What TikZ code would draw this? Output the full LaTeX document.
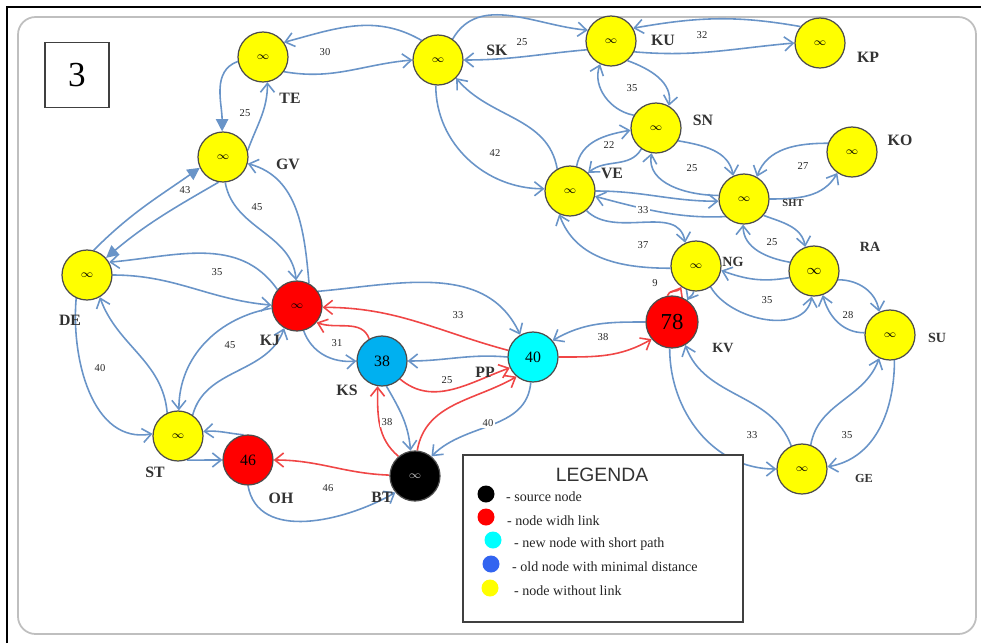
\documentclass[tikz,border=0pt]{standalone}
\usepackage{fontspec}
\setmainfont{Liberation Serif}
\newfontfamily\legsans{Liberation Sans}
\usetikzlibrary{arrows.meta}
\definecolor{eblue}{RGB}{105,148,200}
\definecolor{ered}{RGB}{240,70,70}
\definecolor{ksblue}{RGB}{0,176,240}
\definecolor{ppcyan}{RGB}{0,255,255}
\definecolor{nyellow}{RGB}{255,255,0}
\definecolor{nred}{RGB}{255,0,0}
\definecolor{legblue}{RGB}{50,100,240}
\pgfdeclarelayer{background}
\pgfdeclarelayer{bottom}
\pgfsetlayers{bottom,background,main}
\begin{document}
\begin{tikzpicture}[x=0.02cm,y=0.02cm,
  nd/.style={circle, draw=black!70, line width=0.7pt, minimum size=1cm, inner sep=0pt},
  ynode/.style={nd, fill=nyellow, font=\fontsize{6}{6}\selectfont},
  lab/.style={font=\fontsize{9}{10}\selectfont\bfseries, text=black!80},
  wl/.style={font=\fontsize{6}{6}\selectfont, text=black!85, fill=white, inner sep=1pt},
  be/.style={draw=eblue, line width=0.9pt, -{Straight Barb[length=5pt,width=8pt]}},
  re/.style={draw=ered, line width=0.9pt, -{Straight Barb[length=5pt,width=8pt]}},
  bf/.style={draw=eblue, line width=0.9pt, -{Triangle[length=7pt,width=7pt]}},
  legtxt/.style={anchor=west, font=\fontsize{8}{9}\selectfont, text=black!85},
  legdot/.style={circle, minimum size=0.34cm, inner sep=0pt}
]
\useasboundingbox (0,0) rectangle (981,-643);
\begin{pgfonlayer}{bottom}
\fill[white] (0,0) rectangle (981,-643);
\draw[black, line width=1.2pt] (7,-643) -- (7,-7) -- (981,-7);
\draw[black!25, line width=1pt, rounded corners=10] (18,-17) rectangle (976,-634);
\end{pgfonlayer}

% number box
\node[draw=black!75, line width=1pt, minimum width=1.28cm, minimum height=1.3cm,
      font=\fontsize{20}{22}\selectfont] (num) at (77,-75) {3};

% nodes
\node[ynode] (TE) at (263,-57) {$\infty$};
\node[ynode] (SK) at (438,-60) {$\infty$};
\node[ynode] (KU) at (611,-41) {$\infty$};
\node[ynode] (KP) at (820,-43) {$\infty$};
\node[ynode] (GV) at (223,-157) {$\infty$};
\node[ynode] (SN) at (656,-128) {$\infty$};
\node[ynode] (KO) at (852,-152) {$\infty$};
\node[ynode] (VE) at (570,-191) {$\infty$};
\node[ynode] (SHT) at (744,-199) {$\infty$};
\node[ynode] (NG) at (696,-266) {$\infty$};
\node[ynode, font=\fontsize{8}{8}\selectfont] (RA) at (814,-271) {$\infty$};
\node[ynode] (DE) at (87,-275) {$\infty$};
\node[nd, fill=nred, font=\fontsize{6}{6}\selectfont] (KJ) at (297,-306) {$\infty$};
\node[nd, fill=nred, minimum size=1.04cm, font=\fontsize{13}{13}\selectfont] (KV) at (672,-322) {78};
\node[ynode] (SU) at (890,-335) {$\infty$};
\node[nd, fill=ksblue, font=\fontsize{9}{9}\selectfont] (KS) at (382,-361) {38};
\node[nd, fill=ppcyan, font=\fontsize{9}{9}\selectfont] (PP) at (533,-357) {40};
\node[ynode] (ST) at (178,-436) {$\infty$};
\node[nd, fill=nred, font=\fontsize{9}{9}\selectfont] (OH) at (248,-460) {46};
\node[nd, fill=black, text=white!75!black, font=\fontsize{6}{6}\selectfont] (BT) at (415,-476) {$\infty$};
\node[ynode] (GE) at (802,-469) {$\infty$};

% node names
\node[lab] (lTE) at (290,-98) {TE};
\node[lab] (lGV) at (288,-164) {GV};
\node[lab] (lSK) at (497,-50) {SK};
\node[lab] (lKU) at (663,-40) {KU};
\node[lab] (lKP) at (868,-57) {KP};
\node[lab] (lSN) at (703,-120) {SN};
\node[lab] (lKO) at (900,-140) {KO};
\node[lab] (lVE) at (612,-173) {VE};
\node[lab, font=\fontsize{6}{7}\selectfont\bfseries] (lSHT) at (793,-203) {SHT};
\node[lab, font=\fontsize{8}{9}\selectfont\bfseries] (lNG) at (733,-262) {NG};
\node[lab, font=\fontsize{8}{9}\selectfont\bfseries] (lRA) at (870,-247) {RA};
\node[lab, font=\fontsize{8}{9}\selectfont\bfseries] (lSU) at (937,-338) {SU};
\node[lab, font=\fontsize{8}{9}\selectfont\bfseries] (lKV) at (723,-348) {KV};
\node[lab, font=\fontsize{7}{8}\selectfont\bfseries] (lGE) at (864,-478) {GE};
\node[lab] (lDE) at (70,-320) {DE};
\node[lab] (lKJ) at (270,-340) {KJ};
\node[lab] (lKS) at (347,-390) {KS};
\node[lab] (lPP) at (485,-372) {PP};
\node[lab] (lST) at (155,-472) {ST};
\node[lab] (lOH) at (281,-498) {OH};
\node[lab] (lBT) at (382,-497) {BT};

% edges
\begin{pgfonlayer}{background}
\draw[be] (SK.130) to[out=150,in=15] (TE.35);
\draw[be] (TE.-35) to[out=-10,in=185] (SK.180);
\draw[bf] (TE.190) to[out=200,in=90] (GV.92);
\draw[be] (GV.15) to[out=70,in=-90] (TE.-80);
\draw[be] (SK.55) to[out=60,in=175] (KU.155);
\draw[be] (KU.200) to[out=185,in=0] (SK.0);
\draw[be] (KP.140) to[out=170,in=10] (KU.30);
\draw[be] (KU.-25) to[out=-5,in=185] (KP.180);
\draw[be] (KU.-50) to[out=-20,in=80] (SN.60);
\draw[be] (SN.150) to[out=170,in=-110] (KU.-115);
\draw[be] (SK.-95) to[out=-90,in=180] (VE.175);
\draw[be] (VE.120) to[out=100,in=-50] (SK.-45);
\draw[be] (VE.75) to[out=80,in=190] (SN.185);
\draw[be] (SN.-125) to[out=-120,in=40] (VE.45);
\draw[be] (SN.-30) to[out=-10,in=100] (SHT.115);
\draw[be] (SHT.172) to[out=180,in=-100] (SN.-100);
\draw[be] (KO.160) to[out=180,in=70] (SHT.60);
\draw[be] (SHT.0) to[out=0,in=-120] (KO.-125);
\draw[be] (VE.0) to[out=0,in=180] (SHT.185);
\draw[be] (SHT.-30) to[out=190,in=-15] (VE.-12);
\draw[be] (SHT.-40) to[out=-20,in=100] (RA.110);
\draw[be] (RA.160) to[out=170,in=-90] (SHT.-92);
\draw[be] (VE.-50) to[out=-45,in=100] (NG.115);
\draw[be] (NG.185) to[out=180,in=-70] (VE.-115);
\draw[re] (KV.100) to[out=80,in=-120] (NG.-125);
\draw[be] (NG.-95) to[out=-100,in=60] (KV.55);
\draw[be] (RA.195) to[out=190,in=-20] (NG.-10);
\draw[be] (NG.-55) to[out=-60,in=-100] (RA.-95);
\draw[be] (RA.-20) to[out=0,in=100] (SU.115);
\draw[be] (SU.175) to[out=180,in=-75] (RA.-70);
\draw[be] (KV.-95) to[out=-90,in=180] (GE.180);
\draw[be] (GE.115) to[out=110,in=-70] (KV.-60);
\draw[be] (GE.70) to[out=80,in=-110] (SU.-115);
\draw[be] (SU.-80) to[out=-90,in=10] (GE.5);
\draw[re] (PP.0) to[out=0,in=-150] (KV.-140);
\draw[be] (KV.180) to[out=180,in=30] (PP.40);
\draw[be] (KJ.35) to[out=5,in=115] (PP.120);
\draw[re] (PP.165) to[out=165,in=0] (KJ.-3);
\draw[be] (KJ.-75) to[out=-70,in=185] (KS.180);
\draw[re] (KS.120) to[out=110,in=-20] (KJ.-40);
\draw[be] (PP.180) to[out=175,in=0] (KS.0);
\draw[re] (KS.-45) to[out=-40,in=200] (PP.-155);
\draw[re] (BT.130) to[out=140,in=-90] (KS.-100);
\draw[be] (KS.-80) to[out=-60,in=95] (BT.100);
\draw[re] (BT.85) to[out=80,in=-150] (PP.-130);
\draw[be] (PP.-95) to[out=-95,in=45] (BT.50);
\draw[re] (BT.178) to[out=178,in=0] (OH.0);
\draw[be] (OH.-90) to[out=-80,in=-150] (BT.-140);
\draw[be] (OH.100) to[out=175,in=5] (ST.10);
\draw[be] (ST.-70) to[out=0,in=180] (OH.180);
\draw[be] (DE.-115) to[out=-95,in=190] (ST.175);
\draw[be] (ST.115) to[out=95,in=-70] (DE.-60);
\draw[be] (KJ.185) to[out=190,in=90] (ST.88);
\draw[be] (ST.55) to[out=75,in=-110] (KJ.-120);
\draw[be] (GV.-85) to[out=-80,in=95] (KJ.92);
\draw[be] (KJ.62) to[out=95,in=-15] (GV.-15);
\draw[be] (DE.0) to[out=0,in=175] (KJ.178);
\draw[be] (KJ.140) to[out=125,in=5] (DE.30);
\draw[bf] (DE.75) to[out=45,in=215] (GV.205);
\draw[bf] (GV.-100) to[out=-150,in=40] (DE.42);
\end{pgfonlayer}

% edge weights
\node[wl] (w1) at (325,-52) {30};
\node[wl] (w2) at (522,-42) {25};
\node[wl] (w3) at (702,-35) {32};
\node[wl] (w4) at (245,-113) {25};
\node[wl] (w5) at (632,-88) {35};
\node[wl] (w6) at (495,-153) {42};
\node[wl] (w7) at (609,-145) {22};
\node[wl] (w8) at (692,-168) {25};
\node[wl] (w9) at (803,-166) {27};
\node[wl] (w10) at (643,-210) {33};
\node[wl] (w11) at (772,-242) {25};
\node[wl] (w12) at (643,-245) {37};
\node[wl] (w13) at (655,-283) {9};
\node[wl] (w14) at (767,-300) {35};
\node[wl] (w15) at (848,-315) {28};
\node[wl] (w16) at (752,-435) {33};
\node[wl] (w17) at (847,-435) {35};
\node[wl] (w18) at (603,-337) {38};
\node[wl] (w19) at (458,-315) {33};
\node[wl] (w20) at (337,-343) {31};
\node[wl] (w21) at (447,-380) {25};
\node[wl] (w22) at (387,-422) {38};
\node[wl] (w23) at (488,-423) {40};
\node[wl] (w24) at (328,-488) {46};
\node[wl] (w25) at (185,-190) {43};
\node[wl] (w26) at (257,-207) {45};
\node[wl] (w27) at (217,-272) {35};
\node[wl] (w28) at (100,-368) {40};
\node[wl] (w29) at (230,-345) {45};

% legend
\node[draw=black!75, line width=1.2pt, fill=white, minimum width=5.6cm, minimum height=3.34cm] (legend) at (603,-538.5) {};
\node[font=\legsans\fontsize{11}{12}\selectfont, text=black!80] (legtitle) at (602,-475) {LEGENDA};
\node[legdot, fill=black] (d1) at (486,-494) {};
\node[legdot, fill=nred] (d2) at (486,-517) {};
\node[legdot, fill=ppcyan] (d3) at (493,-540) {};
\node[legdot, fill=legblue] (d4) at (491,-564) {};
\node[legdot, fill=nyellow] (d5) at (490,-588) {};
\node[legtxt] (t1) at (500,-497) {- source node};
\node[legtxt] (t2) at (501,-521) {- node widh link};
\node[legtxt] (t3) at (508,-544) {- new node with short path};
\node[legtxt] (t4) at (506,-567) {- old node with minimal distance};
\node[legtxt] (t5) at (508,-591) {- node without link};
\end{tikzpicture}
\end{document}
